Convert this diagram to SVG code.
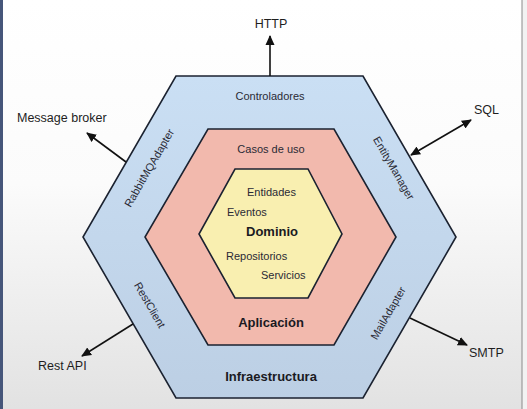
<svg xmlns="http://www.w3.org/2000/svg" width="527" height="409" viewBox="0 0 527 409">
<style>
text{font-family:"Liberation Sans",Arial,sans-serif;fill:#222}
.hex{stroke:#1b2230;stroke-width:1.6;stroke-linejoin:miter}
.lbl{font-size:11px;fill:#2a2a35}
.ext{font-size:12.5px;fill:#1e1e1e}
.b{font-size:13px;font-weight:bold;fill:#1a1a22}
.c{text-anchor:middle}
.con{stroke:#111;stroke-width:1.6;fill:none}
</style>
<defs>
<linearGradient id="bg" x1="0" y1="0" x2="0" y2="1">
<stop offset="0" stop-color="#ffffff"/>
<stop offset="0.45" stop-color="#fbfbfb"/>
<stop offset="1" stop-color="#e2e2e2"/>
</linearGradient>
<linearGradient id="blue" x1="0" y1="0" x2="0" y2="1">
<stop offset="0" stop-color="#cadff4"/>
<stop offset="1" stop-color="#bccfe4"/>
</linearGradient>
<marker id="ah" viewBox="0 0 10 10" refX="9" refY="5" markerWidth="10" markerHeight="10" markerUnits="userSpaceOnUse" orient="auto-start-reverse">
<path d="M0,0.5 L10,5 L0,9.5 Z" fill="#111"/>
</marker>
</defs>
<rect x="0" y="0" width="527" height="409" fill="url(#bg)"/>
<rect x="0" y="0" width="3" height="409" fill="#46567a"/>
<rect x="522" y="0" width="5" height="409" fill="#f2f2f2"/>
<line x1="522" y1="0" x2="522" y2="409" stroke="#8a8a8a" stroke-width="1"/>

<g id="infraestructura">
<polygon class="hex" fill="url(#blue)" points="176,76 363,76 456,237 363,398 176,398 83,237"/>
<text class="lbl c" x="270" y="100">Controladores</text>
<text class="lbl c" transform="translate(149,168) rotate(-60)" y="4">RabbitMQAdapter</text>
<text class="lbl c" transform="translate(394,168) rotate(60)" y="4">EntityManager</text>
<text class="lbl c" transform="translate(150,305) rotate(60)" y="4">RestClient</text>
<text class="lbl c" transform="translate(388,313) rotate(-60)" y="4">MailAdapter</text>
<text class="b c" x="271" y="381">Infraestructura</text>
</g>

<g id="aplicacion">
<polygon class="hex" fill="#f2b9ad" points="208,129 334,129 396,237 334,345 208,345 145,237"/>
<text class="lbl c" x="271" y="153">Casos de uso</text>
<text class="b c" x="271" y="327">Aplicación</text>
</g>

<g id="dominio">
<polygon class="hex" fill="#f9efb0" points="235,169 308,169 342,234 308,298 235,298 199,234"/>
<text class="lbl" x="247" y="196">Entidades</text>
<text class="lbl" x="227" y="216">Eventos</text>
<text class="b" x="246" y="236">Dominio</text>
<text class="lbl" x="226" y="260">Repositorios</text>
<text class="lbl" x="261" y="279">Servicios</text>
</g>

<g id="http"><text class="ext c" x="271" y="28">HTTP</text></g>
<g id="message-broker"><text class="ext" x="17" y="122">Message broker</text></g>
<g id="sql"><text class="ext" x="474" y="114">SQL</text></g>
<g id="rest-api"><text class="ext" x="38" y="370">Rest API</text></g>
<g id="smtp"><text class="ext" x="469" y="357">SMTP</text></g>

<g id="connectors">
<line class="con" x1="270" y1="76" x2="270" y2="36" marker-end="url(#ah)"/>
<line class="con" x1="126" y1="162" x2="87" y2="133" marker-end="url(#ah)"/>
<line class="con" x1="411" y1="155" x2="471" y2="120" marker-start="url(#ah)" marker-end="url(#ah)"/>
<line class="con" x1="133" y1="324" x2="82" y2="356" marker-end="url(#ah)"/>
<line class="con" x1="410" y1="318" x2="467" y2="345" marker-end="url(#ah)"/>
</g>
</svg>
